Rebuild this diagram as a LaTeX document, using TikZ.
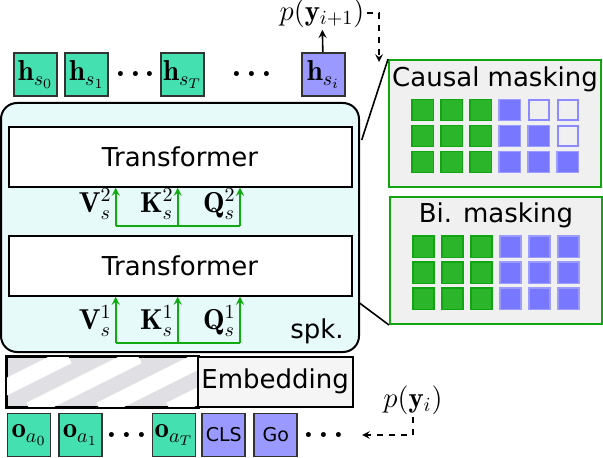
\documentclass[tikz,border=0pt]{standalone}
\usepackage{amsmath}
\usepackage{amssymb}
\usepackage{fontspec}
\setsansfont{DejaVu Sans}
\usepackage{tikz}

\definecolor{tokgreen}{HTML}{45E0B0}
\definecolor{toklilac}{HTML}{9999FF}
\definecolor{spkfill}{HTML}{E6FAFA}
\definecolor{kvgreen}{HTML}{11AA11}
\definecolor{panelgray}{HTML}{F0F0F0}
\definecolor{cellgreen}{HTML}{2BB52B}
\definecolor{cellgreenline}{HTML}{12A512}
\definecolor{cellblue}{HTML}{7777FF}
\definecolor{cellblueline}{HTML}{9C9CFF}
\definecolor{hatchgray}{HTML}{E0E0E4}

\newcommand{\tokdots}{{\bfseries .\hspace{2pt}.\hspace{2pt}.}}

\tikzset{
  tok/.style={draw=black!80, line width=0.9pt, minimum width=21.5pt, minimum height=21.5pt, inner sep=0pt, font=\Large},
  act/.style={tok, fill=tokgreen},
  qry/.style={tok, fill=toklilac, font=\sffamily\fontsize{9.5}{11}\selectfont},
  gap/.style={font=\LARGE, inner sep=0pt},
  block/.style={draw=black, line width=1pt, fill=white, minimum width=171.5pt, minimum height=29.7pt, font=\sffamily\fontsize{13}{15}\selectfont},
  panel/.style={draw=cellgreenline, line width=1pt, fill=panelgray, minimum width=106pt, minimum height=63.5pt},
  cellg/.style={draw=cellgreenline, line width=0.7pt, fill=cellgreen, minimum size=10.6pt, inner sep=0pt},
  cellb/.style={draw=cellblueline, line width=0.7pt, fill=cellblue, minimum size=10.6pt, inner sep=0pt},
  cellempty/.style={draw=cellblue!85, line width=1pt, fill=panelgray, minimum size=10.2pt, inner sep=0pt},
  kv/.style={kvgreen, line width=0.8pt},
  kvlbl/.style={anchor=east, inner sep=0.5pt, font=\Large},
  title/.style={font=\sffamily\fontsize{13}{15}\selectfont},
}

\begin{document}
\begin{tikzpicture}[x=0.5pt, y=-0.5pt]
  \useasboundingbox (0,0) rectangle (603,458);

  % speaker encoder
  \node[draw=black, line width=1pt, fill=spkfill, rounded corners=8pt, minimum width=179pt, minimum height=124.5pt] (spk) at (180,227.5) {};
  \node[title] (spklbl) at (317,331) {spk.};
  \node[block] (tfA) at (180,157) {Transformer};
  \node[block] (tfB) at (180,266) {Transformer};

  % key, value, query inputs
  \coordinate (v2) at (115.7,226);
  \coordinate (k2) at (177.7,226);
  \coordinate (q2) at (240,226);
  \coordinate (v1) at (115.7,343);
  \coordinate (k1) at (177.7,343);
  \coordinate (q1) at (240,343);
  \draw[kv] (v2) -- (q2);
  \draw[kv] (v1) -- (q1);
  \foreach \p in {v2,k2,q2} \draw[kv,-stealth] (\p) -- (\p|-tfA.south);
  \foreach \p in {v1,k1,q1} \draw[kv,-stealth] (\p) -- (\p|-tfB.south);
  \node[kvlbl] (lv2) at (113,204) {$\mathbf{V}_s^2$};
  \node[kvlbl] (lk2) at (175,204) {$\mathbf{K}_s^2$};
  \node[kvlbl] (lq2) at (237,204) {$\mathbf{Q}_s^2$};
  \node[kvlbl] (lv1) at (113,321) {$\mathbf{V}_s^1$};
  \node[kvlbl] (lk1) at (175,321) {$\mathbf{K}_s^1$};
  \node[kvlbl] (lq1) at (237,321) {$\mathbf{Q}_s^1$};

  % outputs
  \node[act] (hs0) at (35.5,74.5) {$\mathbf{h}_{s_0}$};
  \node[act] (hs1) at (86.8,74.5) {$\mathbf{h}_{s_1}$};
  \node[gap] (dotsA) at (135.5,74) {\tokdots};
  \node[act] (hsT) at (182.5,74.5) {$\mathbf{h}_{s_T}$};
  \node[gap] (dotsB) at (252,74) {\tokdots};
  \node[tok, fill=toklilac] (hsi) at (323.3,74.5) {$\mathbf{h}_{s_i}$};
  \node[font=\Large, inner sep=1pt] (pnext) at (322,13) {$p(\mathbf{y}_{i+1})$};
  \draw[line width=0.8pt, -stealth] (hsi) -- (pnext);

  % embedding
  \node[draw=black, line width=1pt, fill=hatchgray, minimum width=95.5pt, minimum height=25pt] (hatch) at (102.2,381.7) {};
  \begin{scope}
    \clip (hatch.south west) rectangle (hatch.north east);
    \foreach \x in {-110,-40,...,210}
      \draw[white, line width=8pt] (\x,410) -- ({\x+108},356);
  \end{scope}
  \draw[line width=1pt] (hatch.south west) rectangle (hatch.north east);
  \node[draw=black, line width=1pt, fill=black!4, minimum width=77.5pt, minimum height=25pt, font=\sffamily\fontsize{13}{15}\selectfont, inner sep=0pt] (emb) at (275.2,381.7) {Embedding};

  % inputs
  \node[act] (oa0) at (29,435) {$\mathbf{o}_{a_0}$};
  \node[act] (oa1) at (80.3,435) {$\mathbf{o}_{a_1}$};
  \node[gap] (dotsC) at (127,435) {\tokdots};
  \node[act] (oaT) at (174,435) {$\mathbf{o}_{a_T}$};
  \node[qry] (cls) at (223.8,435) {CLS};
  \node[qry] (go) at (275.7,435) {Go};
  \node[gap] (dotsD) at (324,435) {\tokdots};
  \node[font=\Large, inner sep=1pt] (pcur) at (413,400) {$p(\mathbf{y}_i)$};
  \coordinate (goin) at (362,435);
  \draw[line width=0.7pt, dashed, -stealth] (pcur.south) |- (goin);

  % masking panels
  \node[panel] (causal) at (495,123.7) {};
  \node[title] (causallbl) at (495,79) {Causal masking};
  \node[panel] (bi) at (496,260.5) {};
  \node[title] (bilbl) at (496,215) {Bi. masking};
  \foreach \r in {1,2,3}
    \foreach \c in {1,...,6}{
      \ifnum\c<4 \def\cs{cellg}\else
        \ifnum\numexpr\c-3\relax>\r \def\cs{cellempty}\else\def\cs{cellb}\fi
      \fi
      \node[\cs] (ca-\r-\c) at ({422.7+29*(\c-1)},{110+26*(\r-1)}) {};
      \ifnum\c<4 \def\cs{cellg}\else\def\cs{cellb}\fi
      \node[\cs] (bm-\r-\c) at ({423.5+29*(\c-1)},{246.7+26*(\r-1)}) {};
    }

  % zoom lines
  \coordinate (maskin) at (379,62);
  \draw[line width=0.7pt, dashed, -stealth] (pnext.east) -| (maskin);
  \coordinate (spkup) at (361.7,140);
  \coordinate (spkdown) at (359.5,303);
  \draw[line width=0.8pt] (spkup) -- (causal.north west);
  \draw[line width=0.8pt] (spkdown) -- (bi.south west);
\end{tikzpicture}
\end{document}
